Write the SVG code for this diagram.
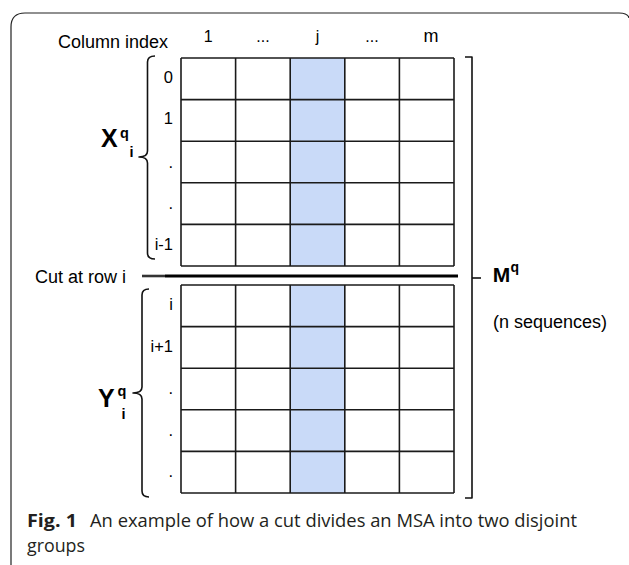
<svg xmlns="http://www.w3.org/2000/svg" width="629" height="565" viewBox="0 0 629 565">
<style>
.t{font-family:"Liberation Sans",Arial,sans-serif;fill:#000}
.lbl{font-size:18px}
.hd{font-size:16px;text-anchor:middle}
.row{font-size:16.5px;text-anchor:end}
.b{font-weight:bold}
.grid line{stroke:#1a1a1a;stroke-width:1.6}
.br{fill:none;stroke:#111;stroke-width:1.6;stroke-linejoin:round}
.cap{font-family:"Open Sans","Noto Sans",sans-serif;font-size:18px;fill:#231f20}
</style>
<rect width="629" height="565" fill="#fff"/>
<path d="M11,566 V27 Q11,13 25,13 H619 Q628,13 629,18" fill="none" stroke="#222" stroke-width="1.2"/>

<g id="header">
<text class="t lbl" x="58" y="48">Column index</text>
<text class="t hd" x="208.3" y="42">1</text>
<text class="t hd" x="263" y="42">...</text>
<text class="t hd" x="317.5" y="42">j</text>
<text class="t hd" x="372" y="42">...</text>
<text class="t hd" x="431" y="42" style="font-size:18px">m</text>
</g>

<g id="top-grid" class="grid">
<rect x="290.2" y="58" width="54.6" height="208" fill="#c9daf8"/>
<line x1="181" y1="58" x2="454" y2="58"/>
<line x1="181" y1="99.6" x2="454" y2="99.6"/>
<line x1="181" y1="141.2" x2="454" y2="141.2"/>
<line x1="181" y1="182.8" x2="454" y2="182.8"/>
<line x1="181" y1="224.4" x2="454" y2="224.4"/>
<line x1="181" y1="266" x2="454" y2="266"/>
<line x1="181" y1="58" x2="181" y2="266"/>
<line x1="235.6" y1="58" x2="235.6" y2="266"/>
<line x1="290.2" y1="58" x2="290.2" y2="266"/>
<line x1="344.8" y1="58" x2="344.8" y2="266"/>
<line x1="399.4" y1="58" x2="399.4" y2="266"/>
<line x1="454" y1="58" x2="454" y2="266"/>
</g>

<g id="bottom-grid" class="grid">
<rect x="290.2" y="285" width="54.6" height="208" fill="#c9daf8"/>
<line x1="181" y1="285" x2="454" y2="285"/>
<line x1="181" y1="326.6" x2="454" y2="326.6"/>
<line x1="181" y1="368.2" x2="454" y2="368.2"/>
<line x1="181" y1="409.8" x2="454" y2="409.8"/>
<line x1="181" y1="451.4" x2="454" y2="451.4"/>
<line x1="181" y1="493" x2="454" y2="493"/>
<line x1="181" y1="285" x2="181" y2="493"/>
<line x1="235.6" y1="285" x2="235.6" y2="493"/>
<line x1="290.2" y1="285" x2="290.2" y2="493"/>
<line x1="344.8" y1="285" x2="344.8" y2="493"/>
<line x1="399.4" y1="285" x2="399.4" y2="493"/>
<line x1="454" y1="285" x2="454" y2="493"/>
</g>

<g id="row-labels">
<text class="t row" x="173" y="83.3">0</text>
<text class="t row" x="173" y="124.3">1</text>
<text class="t row" x="173" y="167.5">.</text>
<text class="t row" x="173" y="209">.</text>
<text class="t row" x="173" y="250">i-1</text>
<text class="t row" x="173" y="310">i</text>
<text class="t row" x="173" y="351.6">i+1</text>
<text class="t row" x="173" y="394">.</text>
<text class="t row" x="173" y="435.6">.</text>
<text class="t row" x="173" y="477.2">.</text>
</g>

<g id="X-group">
<path class="br" d="M155,56 Q147.5,56 147.5,62 V151 Q147.5,157 139,157 Q147.5,157 147.5,163 V253 Q147.5,259 155,259"/>
<text class="t b" x="101" y="146.7" style="font-size:25px">X</text>
<text class="t b" x="120" y="137.5" style="font-size:14.5px">q</text>
<text class="t b" x="129.5" y="157" style="font-size:14.5px">i</text>
</g>

<g id="cut">
<line x1="142" y1="276" x2="165" y2="276" stroke="#333" stroke-width="2.6"/>
<line x1="165" y1="276" x2="458" y2="276" stroke="#000" stroke-width="3"/>
<text class="t lbl" x="35" y="283">Cut at row i</text>
</g>

<g id="Y-group">
<path class="br" d="M149,289 Q142,289 142,295 V387 Q142,393 133,393 Q142,393 142,399 V491 Q142,497 149,497"/>
<text class="t b" x="98" y="406.7" style="font-size:25px">Y</text>
<text class="t b" x="117.5" y="396" style="font-size:14.5px">q</text>
<text class="t b" x="121.5" y="418.5" style="font-size:14.5px">i</text>
</g>

<g id="M-group">
<path class="br" d="M465,57 H472 V498 H465"/>
<line x1="472" y1="278" x2="481" y2="278" stroke="#111" stroke-width="1.6"/>
<text class="t b" x="492.7" y="281.7" style="font-size:21px">M</text>
<text class="t b" x="510.5" y="272" style="font-size:14px">q</text>
<text class="t lbl" x="493" y="328">(n sequences)</text>
</g>

<g id="caption">
<text class="cap" x="27" y="527" font-weight="bold" textLength="50" lengthAdjust="spacingAndGlyphs">Fig. 1</text>
<text class="cap" x="90" y="527" textLength="487" lengthAdjust="spacingAndGlyphs">An example of how a cut divides an MSA into two disjoint</text>
<text class="cap" x="27" y="551.7" textLength="58" lengthAdjust="spacingAndGlyphs">groups</text>
</g>
</svg>
